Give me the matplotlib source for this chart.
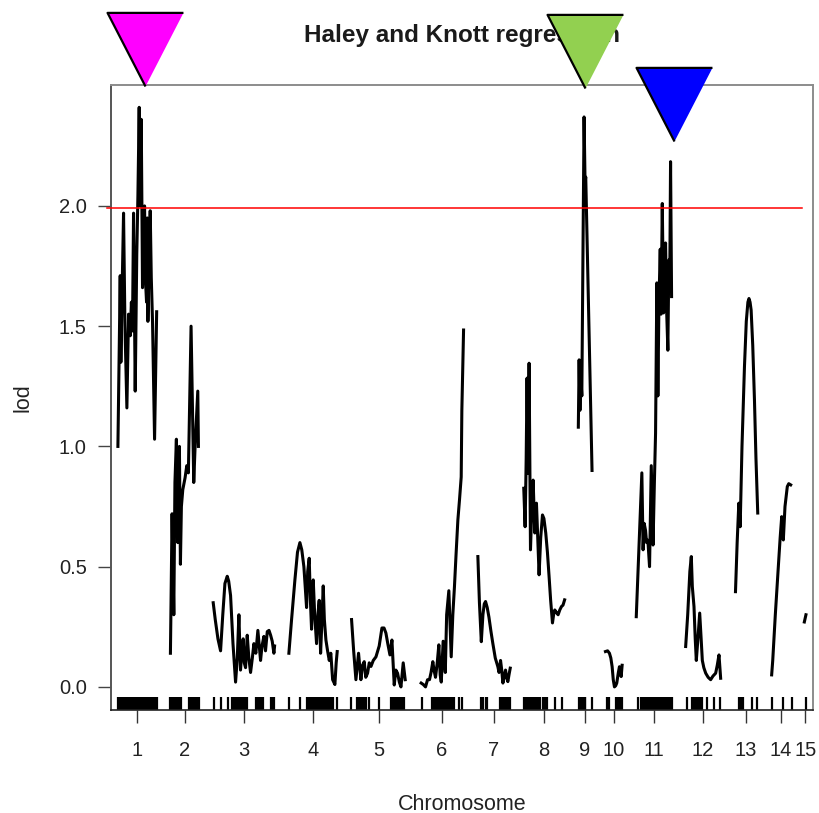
import numpy as np
import matplotlib
matplotlib.use('Agg')
import matplotlib.pyplot as plt

plt.rcParams['font.family'] = ['Liberation Sans', 'DejaVu Sans']

# chromosome layout (cM), R/qtl style with a gap between chromosomes
chrom_names = [str(i) for i in range(1, 16)]
chrom_len = [74, 54, 117, 91, 102, 83, 61, 76, 26, 31, 67, 67, 43, 37, 4]
gap = 25

# LOD profile per chromosome: positions (cM within chromosome) and LOD values
lod_pos = [
    [1.9, 6.2, 7.4, 9.5, 12.4, 15.0, 18.6, 21.7, 24.8, 27.0, 29.0, 31.0, 34.1, 37.0, 39.1, 41.5, 43.0, 45.3,
     47.7, 49.5, 51.5, 53.0, 55.2, 56.5, 57.7, 60.0, 62.0, 64.0, 66.3, 70.1, 74.0],
    [0.6, 3.7, 6.9, 9.0, 11.7, 14.3, 17.3, 19.2, 21.0, 23.6, 27.9, 31.0, 34.0, 39.0, 44.0, 46.5, 51.5, 52.7],
    [1.2, 5.0, 10.0, 14.9, 19.0, 23.0, 27.3, 30.0, 33.5, 38.0, 42.8, 46.0, 49.0, 52.0, 54.5, 57.0, 59.0, 61.4,
     64.5, 67.5, 70.7, 74.0, 76.9, 80.5, 84.3, 89.3, 92.0, 95.5, 98.5, 101.8, 105.0, 108.0, 111.0, 114.1, 115.4],
    [0.0, 5.0, 11.2, 16.0, 20.5, 24.0, 27.9, 30.0, 32.9, 35.0, 37.8, 40.0, 42.2, 45.3, 48.0, 51.5, 54.0, 56.4,
     59.0, 61.0, 63.9, 66.0, 68.9, 72.0, 75.1, 78.0, 81.4, 85.6, 88.0, 89.9],
    [0.6, 4.5, 8.7, 13.6, 18.0, 21.0, 24.2, 27.0, 30.4, 33.5, 36.7, 41.0, 46.0, 52.0, 57.1, 61.0, 64.5, 68.0,
     72.0, 75.7, 80.0, 83.0, 86.2, 89.5, 92.5, 96.7, 100.4],
    [3.1, 7.0, 11.2, 15.0, 18.6, 21.5, 24.8, 27.0, 29.8, 33.0, 36.0, 38.5, 40.5, 44.0, 48.0, 50.5, 54.6, 59.0,
     62.0, 65.0, 68.0, 71.4, 74.5, 77.6, 78.8, 82.0],
    [0.6, 3.5, 7.0, 10.0, 12.5, 14.9, 18.0, 21.2, 25.0, 28.5, 33.0, 37.8, 40.0, 42.8, 45.0, 47.2, 50.0, 52.1,
     54.5, 56.4, 58.5, 60.8],
    [0.0, 2.5, 4.5, 6.1, 8.1, 9.9, 12.5, 15.0, 17.4, 20.5, 23.6, 26.0, 28.5, 31.5, 34.8, 37.5, 40.9, 44.0,
     47.1, 50.0, 53.4, 55.5, 57.7, 60.5, 63.9, 67.0, 70.1, 73.0, 76.0],
    [0.5, 2.0, 3.5, 5.0, 7.0, 11.2, 13.0, 14.3, 26.0],
    [0.0, 4.0, 7.4, 10.0, 12.4, 14.5, 16.7, 19.0, 21.0, 24.0, 26.0, 29.2, 31.0],
    [1.3, 11.7, 14.0, 16.0, 18.6, 20.5, 22.9, 26.0, 29.2, 32.5, 35.0, 37.2, 39.6, 41.5, 43.5, 45.9, 47.5, 49.7,
     52.1, 54.0, 55.8, 58.0, 60.1, 61.9, 63.5, 65.1, 67.0],
    [1.2, 5.0, 9.0, 11.7, 13.6, 16.7, 19.0, 21.0, 24.0, 27.3, 30.0, 32.2, 35.0, 38.5, 43.0, 47.7, 52.0, 57.0,
     60.0, 63.2, 66.3],
    [1.9, 5.0, 8.1, 10.6, 14.0, 18.6, 22.0, 25.0, 27.0, 29.0, 31.0, 34.0, 37.2, 40.0, 43.3],
    [1.2, 3.2, 8.0, 13.6, 17.0, 19.9, 22.9, 26.0, 30.3, 33.0, 36.6],
    [0.0, 3.0],
]
lod_val = [
    [1.00, 1.71, 1.35, 1.62, 1.97, 1.50, 1.16, 1.55, 1.46, 1.60, 1.48, 1.97, 1.23, 1.80, 2.04, 2.41, 2.00, 2.36,
     1.66, 1.85, 2.00, 1.70, 1.60, 1.95, 1.52, 1.80, 1.98, 1.70, 1.52, 1.03, 1.56],
    [0.14, 0.72, 0.30, 0.85, 1.03, 0.60, 1.00, 0.51, 0.75, 0.82, 0.87, 0.92, 0.89, 1.50, 0.85, 1.00, 1.23, 1.00],
    [0.35, 0.28, 0.20, 0.15, 0.30, 0.43, 0.46, 0.44, 0.38, 0.18, 0.02, 0.12, 0.30, 0.07, 0.15, 0.20, 0.10, 0.08,
     0.215, 0.12, 0.06, 0.12, 0.18, 0.14, 0.235, 0.11, 0.17, 0.21, 0.15, 0.23, 0.235, 0.215, 0.19, 0.14, 0.17],
    [0.14, 0.28, 0.445, 0.56, 0.60, 0.57, 0.50, 0.43, 0.33, 0.48, 0.535, 0.36, 0.24, 0.445, 0.30, 0.18, 0.30, 0.36,
     0.14, 0.25, 0.42, 0.28, 0.195, 0.15, 0.11, 0.14, 0.03, 0.01, 0.10, 0.147],
    [0.28, 0.15, 0.03, 0.14, 0.03, 0.09, 0.105, 0.04, 0.057, 0.10, 0.085, 0.11, 0.125, 0.17, 0.245, 0.245, 0.224, 0.18,
     0.133, 0.195, 0.008, 0.07, 0.057, 0.02, 0.0, 0.10, 0.03],
    [0.016, 0.01, 0.0, 0.03, 0.03, 0.06, 0.105, 0.07, 0.04, 0.10, 0.175, 0.05, 0.02, 0.19, 0.06, 0.30, 0.40, 0.125,
     0.30, 0.415, 0.55, 0.694, 0.78, 0.873, 1.15, 1.484],
    [0.542, 0.35, 0.188, 0.30, 0.345, 0.355, 0.33, 0.29, 0.23, 0.18, 0.12, 0.084, 0.06, 0.11, 0.07, 0.016, 0.05, 0.07,
     0.035, 0.022, 0.05, 0.078],
    [0.826, 0.666, 0.95, 1.284, 0.888, 1.346, 0.57, 0.75, 0.86, 0.64, 0.764, 0.62, 0.466, 0.62, 0.715, 0.70, 0.64, 0.56,
     0.459, 0.36, 0.266, 0.30, 0.32, 0.31, 0.30, 0.32, 0.334, 0.34, 0.362],
    [1.08, 1.36, 1.15, 1.30, 1.21, 2.37, 2.10, 2.12, 0.90],
    [0.147, 0.15, 0.14, 0.12, 0.084, 0.03, 0.0, 0.005, 0.016, 0.06, 0.084, 0.043, 0.09],
    [0.292, 0.89, 0.57, 0.68, 0.65, 0.60, 0.61, 0.50, 0.92, 0.59, 0.85, 1.055, 1.68, 1.21, 1.60, 1.82, 1.55, 2.01,
     1.555, 1.75, 1.846, 1.55, 1.40, 1.775, 1.65, 2.184, 1.623],
    [0.168, 0.30, 0.48, 0.542, 0.417, 0.334, 0.20, 0.11, 0.20, 0.307, 0.20, 0.11, 0.08, 0.057, 0.04, 0.03, 0.045, 0.057,
     0.09, 0.133, 0.036],
    [0.396, 0.60, 0.764, 0.666, 1.00, 1.332, 1.52, 1.60, 1.615, 1.60, 1.567, 1.42, 1.193, 0.95, 0.723],
    [0.05, 0.11, 0.30, 0.50, 0.62, 0.708, 0.611, 0.75, 0.833, 0.845, 0.84],
    [0.27, 0.30],
]

# genetic markers (rug), cM within chromosome
marker_pos = [
    [2, 4, 7, 9, 13, 15, 19, 22, 26, 28, 32, 35, 37, 41, 43, 45, 48, 52, 56, 58, 61, 65, 69, 71, 74],
    [0.5, 2, 4, 6, 8, 10, 12, 14, 16, 19, 21, 35, 38, 43, 46, 49, 52, 54],
    [2, 15, 28, 37, 39, 41, 44, 46, 48, 50, 52, 54, 56, 59, 61, 63, 65, 80, 82, 85, 88, 91, 93, 108, 110, 112, 115],
    [0, 20, 33, 35, 37, 39, 41, 43, 45, 48, 50, 52, 54, 56, 58, 60, 62, 65, 67, 70, 74, 78, 82, 89],
    [0, 11, 13, 15, 17, 20, 24, 28, 33, 52, 74, 76, 78, 80, 83, 86, 88, 91, 95, 99],
    [4, 24, 26, 28, 30, 33, 35, 38, 41, 45, 48, 50, 53, 56, 60, 63, 65, 74, 80],
    [7, 10, 15, 17, 41, 43, 45, 47, 50, 53, 56, 60],
    [0, 2, 4, 6, 8, 10, 12, 14, 16, 18, 20, 22, 24, 26, 28, 30, 35, 39, 43, 58, 71],
    [2, 4, 6, 8, 10, 12, 13, 26],
    [2, 7, 20, 22, 24, 26, 28, 30],
    [4, 11, 14, 17, 20, 23, 26, 28, 30, 32, 34, 36, 38, 40, 42, 44, 46, 48, 50, 52, 54, 56, 58, 60, 62, 65, 67],
    [4, 13, 15, 17, 20, 22, 24, 26, 28, 31, 41, 54, 65],
    [9, 12, 15, 33, 41],
    [2, 22, 39],
    [3],
]

threshold = 1.99

# QTL flags drawn above the profile
qtl_chrom = [1, 9, 11]
qtl_pos = [52, 12.5, 71]
qtl_lod = [2.50, 2.49, 2.27]
qtl_color = ['#ff00ff', '#92d050', '#0000ff']

starts = np.concatenate([[0], np.cumsum(np.array(chrom_len[:-1]) + gap)])
mids = starts + np.array(chrom_len) / 2

fig = plt.figure(figsize=(8.19, 8.13), dpi=100)
ax = fig.add_axes([0.1355, 0.1267, 0.8571, 0.7688])

for i in range(len(chrom_len)):
    ax.plot(starts[i] + np.array(lod_pos[i]), lod_val[i], color='black', lw=2.2, zorder=2)

    ax.vlines(starts[i] + np.array(marker_pos[i]), 0, 0.021, transform=ax.get_xaxis_transform(),
              color='black', lw=1.6, zorder=2)

ax.axhline(threshold, xmin=-0.006, xmax=0.984, color='red', lw=1.1, clip_on=False, zorder=3)

# downward triangles with the tip on the point
tri = [(0, 0), (-0.5, 0.97), (0.5, 0.97)]
for c, p, l, col in zip(qtl_chrom, qtl_pos, qtl_lod, qtl_color):
    ax.plot(starts[c - 1] + p, l, marker=tri, markersize=106, markerfacecolor=col,
            markeredgecolor='black', markeredgewidth=1.6, ls='none', clip_on=False, zorder=6)

ax.set_xlim(-11, 1295)
ax.set_ylim(-0.096, 2.503)

ax.set_xticks(mids)
ax.set_xticklabels(chrom_names)
ax.set_yticks([0.0, 0.5, 1.0, 1.5, 2.0])
ax.set_yticklabels(['0.0', '0.5', '1.0', '1.5', '2.0'])
ax.tick_params(axis='x', length=9.5, width=1.0, colors='#333333', labelsize=14.5, pad=13,
               labelcolor='#222222')
ax.tick_params(axis='y', length=9.5, width=1.0, colors='#444444', labelsize=14.5, pad=8,
               labelcolor='#222222')

for side in ['top', 'right']:
    ax.spines[side].set_color('#8c8c8c')
    ax.spines[side].set_linewidth(1.4)
ax.spines['left'].set_color('#555555')
ax.spines['left'].set_linewidth(1.4)
ax.spines['bottom'].set_color('#222222')
ax.spines['bottom'].set_linewidth(1.2)

ax.set_xlabel('Chromosome', fontsize=15.5, color='#222222', labelpad=24)
ax.set_ylabel('lod', fontsize=15.5, color='#222222', labelpad=18)
ax.set_title('Haley and Knott regression', fontsize=17.5, fontweight='bold', color='#1a1a1a', pad=31)

fig.savefig('out.png', dpi=100)
